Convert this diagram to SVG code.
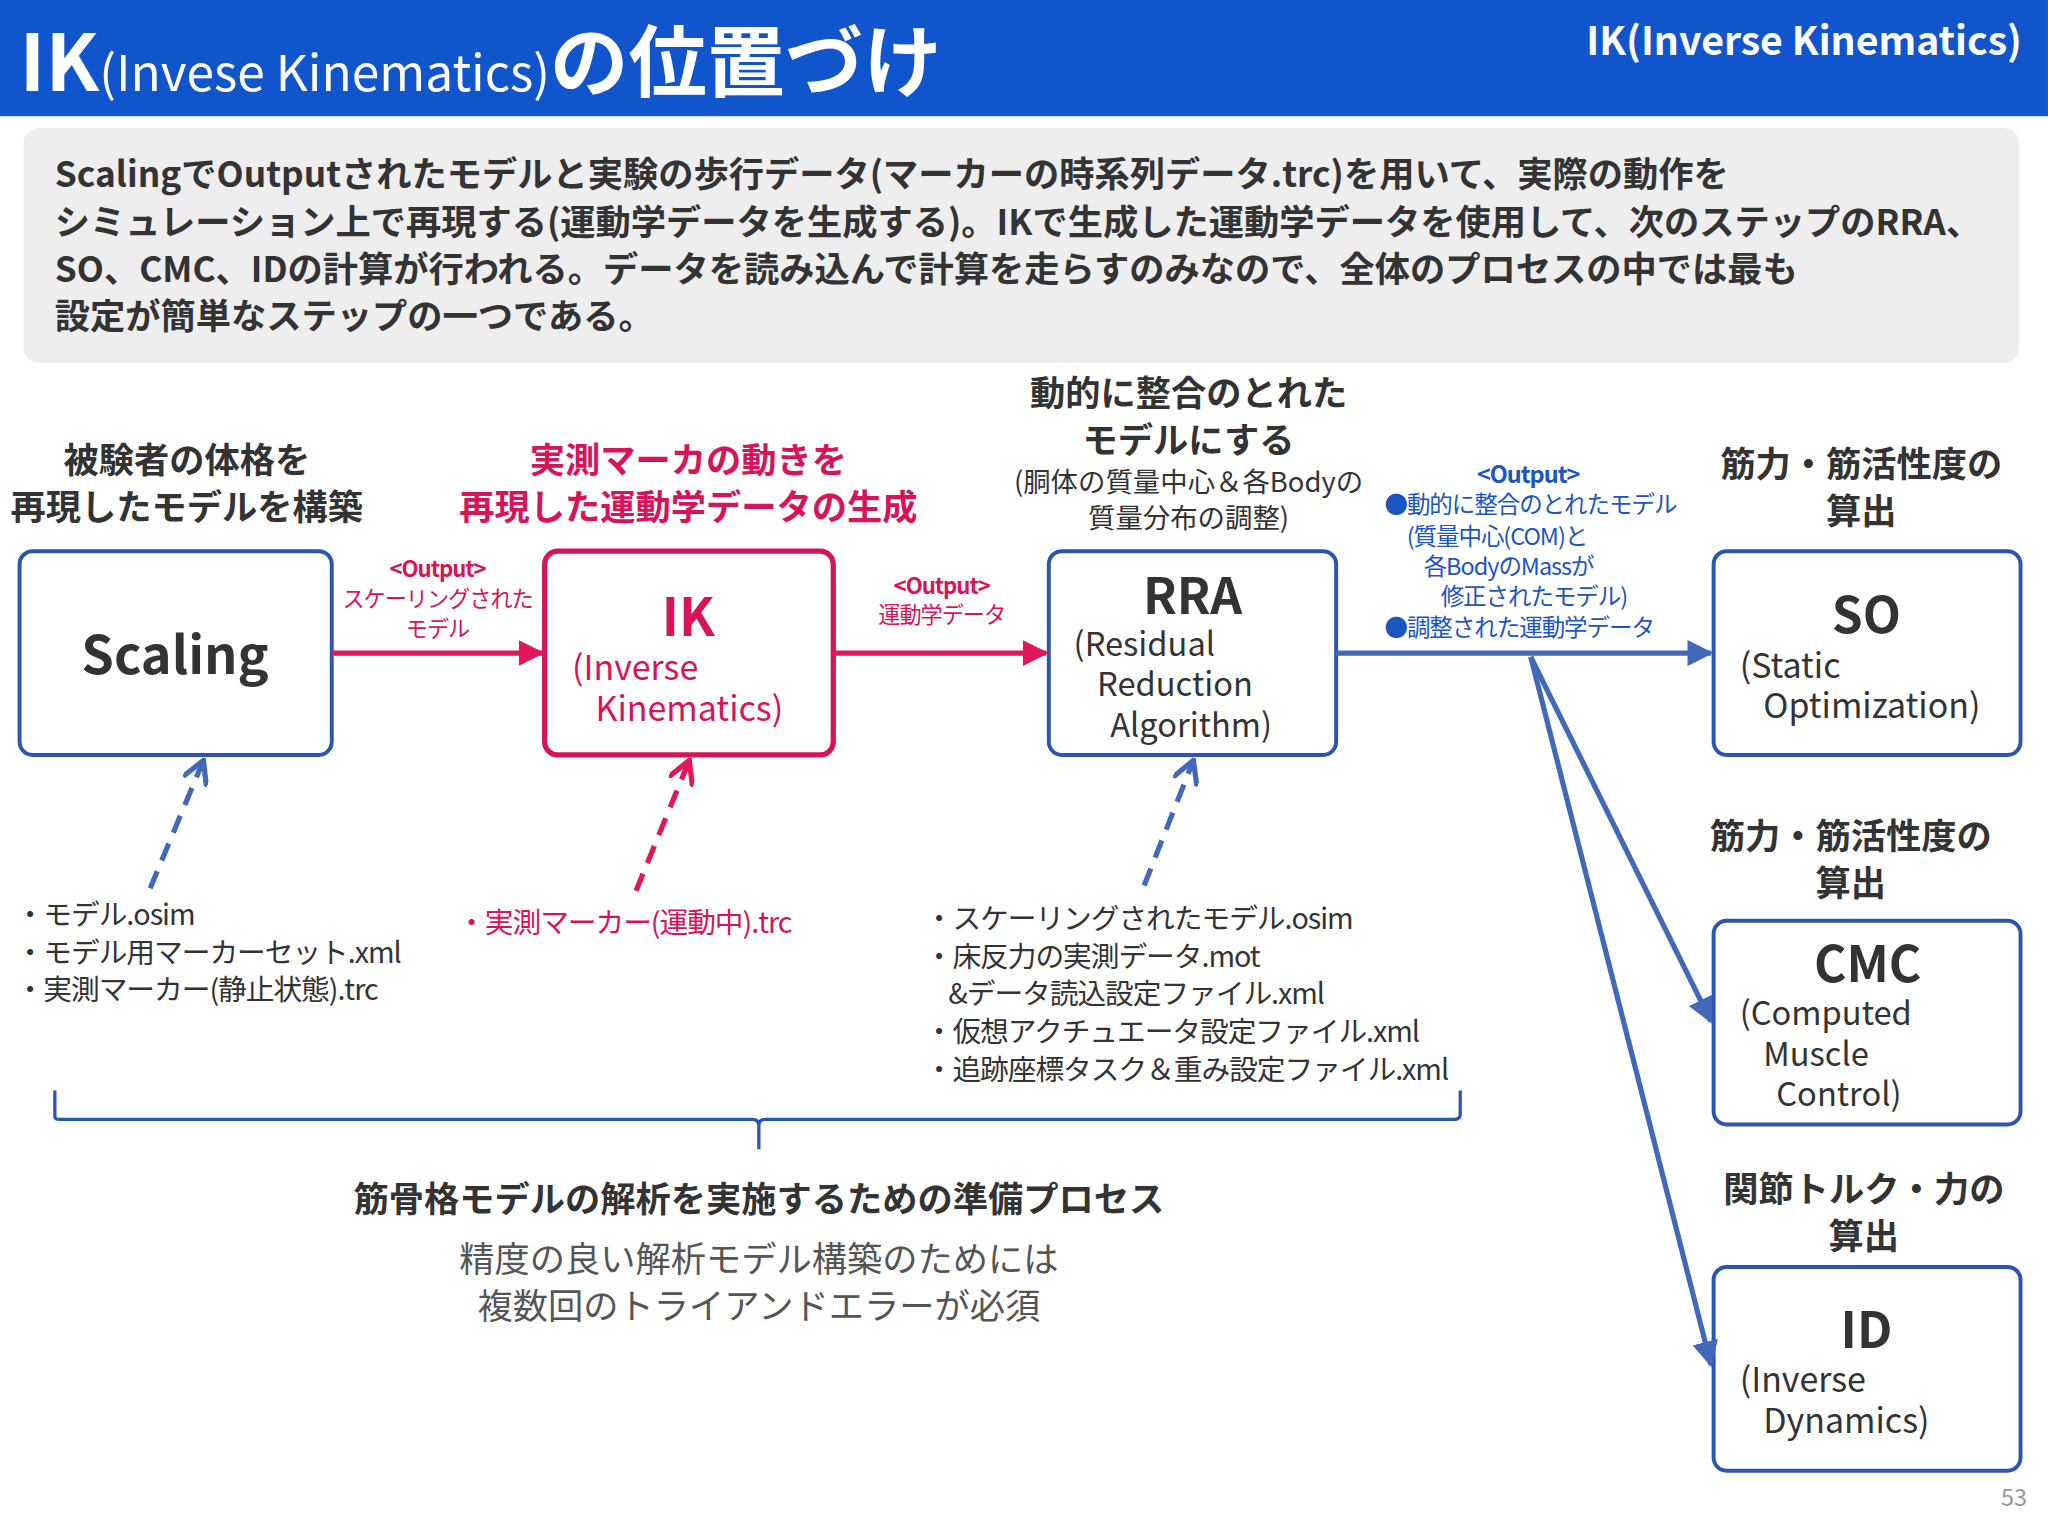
<svg xmlns="http://www.w3.org/2000/svg" width="2048" height="1536" viewBox="0 0 2048 1536">
<defs>
<style>
text{font-family:"Noto Sans CJK JP","Noto Sans",sans-serif;}
.b{font-weight:bold}
.g{fill:#333}
.r{fill:#d6145a}
.bl{fill:#1a55c0}
.box{fill:#fff;stroke:#2a55b0;stroke-width:3}
.boxr{fill:#fff;stroke:#d6145a;stroke-width:4}
.lst{letter-spacing:-0.8px}
</style>
<marker id="ab" viewBox="0 0 10 10" refX="9" refY="5" markerWidth="5" markerHeight="5" orient="auto"><path d="M0,0L10,5L0,10z" fill="#4169b8"/></marker>
<marker id="ar" viewBox="0 0 10 10" refX="9" refY="5" markerWidth="5" markerHeight="5" orient="auto"><path d="M0,0L10,5L0,10z" fill="#e0185a"/></marker>
<marker id="ob" viewBox="0 0 10 10" refX="8" refY="5" markerWidth="5" markerHeight="5" orient="auto"><path d="M0,0L9,5L0,10" fill="none" stroke="#4169b8" stroke-width="2"/></marker>
<marker id="or" viewBox="0 0 10 10" refX="8" refY="5" markerWidth="5" markerHeight="5" orient="auto"><path d="M0,0L9,5L0,10" fill="none" stroke="#e0185a" stroke-width="2"/></marker>
</defs>
<rect width="2048" height="1536" fill="#fff"/>
<g transform="scale(1.3061)">
<g id="header">
<rect x="0" y="0" width="1568" height="89" fill="#1155cc"/>
<text x="15" y="70" fill="#fff" class="b" font-size="60">IK<tspan font-size="38" font-weight="normal">(Invese Kinematics)</tspan>の位置づけ</text>
<text x="1548" y="42" fill="#fff" class="b" font-size="30" text-anchor="end">IK(Inverse Kinematics)</text>
</g>
<g id="summary">
<rect x="18" y="98" width="1528" height="180" rx="12" fill="#eeeeee"/>
<g class="b g" font-size="27">
<text x="42" y="143">ScalingでOutputされたモデルと実験の歩行データ(マーカーの時系列データ.trc)を用いて、実際の動作を</text>
<text x="42" y="180">シミュレーション上で再現する(運動学データを生成する)。IKで生成した運動学データを使用して、次のステップのRRA、</text>
<text x="42" y="216">SO、CMC、IDの計算が行われる。データを読み込んで計算を走らすのみなので、全体のプロセスの中では最も</text>
<text x="42" y="252">設定が簡単なステップの一つである。</text>
</g>
</g>
<g id="captions" text-anchor="middle">
<text x="143" y="362" class="b g" font-size="27">被験者の体格を</text>
<text x="143" y="398" class="b g" font-size="27">再現したモデルを構築</text>
<text x="527" y="362" class="b r" font-size="27">実測マーカの動きを</text>
<text x="527" y="398" class="b r" font-size="27">再現した運動学データの生成</text>
<text x="910" y="311" class="b g" font-size="27">動的に整合のとれた</text>
<text x="910" y="347" class="b g" font-size="27">モデルにする</text>
<text x="910" y="377" class="g" font-size="21">(胴体の質量中心＆各Bodyの</text>
<text x="910" y="404" class="g" font-size="21">質量分布の調整)</text>
<text x="1425" y="365" class="b g" font-size="27">筋力・筋活性度の</text>
<text x="1425" y="401" class="b g" font-size="27">算出</text>
<text x="1417" y="650" class="b g" font-size="27">筋力・筋活性度の</text>
<text x="1417" y="686" class="b g" font-size="27">算出</text>
<text x="1427" y="920" class="b g" font-size="27">関節トルク・力の</text>
<text x="1427" y="956" class="b g" font-size="27">算出</text>
</g>
<g id="scaling"><rect class="box" x="15" y="422" width="239" height="156" rx="10"/><text x="134" y="516" text-anchor="middle" class="b g" font-size="40">Scaling</text></g>
<g id="ik"><rect class="boxr" x="417" y="422" width="221" height="156" rx="10"/><text x="527" y="487" text-anchor="middle" class="b r" font-size="40">IK</text><text x="438" y="521" class="r" font-size="26">(Inverse</text><text x="456" y="552" class="r" font-size="26">Kinematics)</text></g>
<g id="rra"><rect class="box" x="803" y="422" width="220" height="156" rx="10"/><text x="913" y="470" text-anchor="middle" class="b g" font-size="38">RRA</text><text x="822" y="502" class="g" font-size="25">(Residual</text><text x="840" y="533" class="g" font-size="25">Reduction</text><text x="850" y="564" class="g" font-size="25">Algorithm)</text></g>
<g id="so"><rect class="box" x="1312" y="422" width="235" height="156" rx="10"/><text x="1429" y="485" text-anchor="middle" class="b g" font-size="38">SO</text><text x="1332" y="519" class="g" font-size="26">(Static</text><text x="1350" y="550" class="g" font-size="26">Optimization)</text></g>
<g id="cmc"><rect class="box" x="1312" y="705" width="235" height="156" rx="10"/><text x="1430" y="752" text-anchor="middle" class="b g" font-size="38">CMC</text><text x="1332" y="785" class="g" font-size="25">(Computed</text><text x="1350" y="816" class="g" font-size="25">Muscle</text><text x="1360" y="847" class="g" font-size="25">Control)</text></g>
<g id="id"><rect class="box" x="1312" y="970" width="235" height="156" rx="10"/><text x="1429" y="1032" text-anchor="middle" class="b g" font-size="38">ID</text><text x="1332" y="1066" class="g" font-size="26">(Inverse</text><text x="1350" y="1097" class="g" font-size="26">Dynamics)</text></g>
<g id="connectors" fill="none" stroke-width="4">
<line x1="254" y1="500" x2="415" y2="500" stroke="#e0185a" marker-end="url(#ar)"/>
<line x1="638" y1="500" x2="801" y2="500" stroke="#e0185a" marker-end="url(#ar)"/>
<line x1="1023" y1="500" x2="1310" y2="500" stroke="#4169b8" marker-end="url(#ab)"/>
<line x1="1172" y1="503" x2="1310" y2="782" stroke="#4169b8" marker-end="url(#ab)"/>
<line x1="1172" y1="503" x2="1310" y2="1045" stroke="#4169b8" marker-end="url(#ab)"/>
<line x1="115" y1="680" x2="155" y2="584" stroke="#4169b8" stroke-dasharray="14,9" marker-end="url(#ob)"/>
<line x1="487" y1="682" x2="527" y2="584" stroke="#e0185a" stroke-dasharray="14,9" marker-end="url(#or)"/>
<line x1="876" y1="678" x2="913" y2="584" stroke="#4169b8" stroke-dasharray="14,9" marker-end="url(#ob)"/>
<path d="M42,835 V855 Q42,857 46,857 H576 Q581,857 581,862 V880 M581,862 Q581,857 586,857 H1114 Q1118,857 1118,853 V835" stroke="#2a55b0" stroke-width="2.5"/>
</g>
<g id="labels">
<g text-anchor="middle" class="r lst" font-size="17"><text x="335" y="442" class="b">&lt;Output&gt;</text><text x="335" y="465">スケーリングされた</text><text x="335" y="488">モデル</text>
<text x="721" y="455" class="b">&lt;Output&gt;</text><text x="721" y="477">運動学データ</text></g>
<g class="bl lst" font-size="18"><text x="1170" y="370" text-anchor="middle" class="b">&lt;Output&gt;</text><text x="1060" y="393">●動的に整合のとれたモデル</text><text x="1077" y="417">(質量中心(COM)と</text><text x="1090" y="440">各BodyのMassが</text><text x="1103" y="463">修正されたモデル)</text><text x="1060" y="487">●調整された運動学データ</text></g>
<g class="g lst" font-size="22"><text x="12" y="708">・モデル.osim</text><text x="12" y="737">・モデル用マーカーセット.xml</text><text x="12" y="766">・実測マーカー(静止状態).trc</text></g>
<text x="350" y="714" class="r lst" font-size="22">・実測マーカー(運動中).trc</text>
<g class="g lst" font-size="22"><text x="708" y="711">・スケーリングされたモデル.osim</text><text x="708" y="740">・床反力の実測データ.mot</text><text x="726" y="769">&amp;データ読込設定ファイル.xml</text><text x="708" y="798">・仮想アクチュエータ設定ファイル.xml</text><text x="708" y="827">・追跡座標タスク＆重み設定ファイル.xml</text></g>
<g text-anchor="middle" class="g"><text x="581" y="928" class="b" font-size="27">筋骨格モデルの解析を実施するための準備プロセス</text><text x="581" y="974" font-size="27" fill="#555">精度の良い解析モデル構築のためには</text><text x="581" y="1010" font-size="27" fill="#555">複数回のトライアンドエラーが必須</text></g>
<text x="1552" y="1153" text-anchor="end" font-size="18" fill="#999">53</text>
</g>
</g>
</svg>
